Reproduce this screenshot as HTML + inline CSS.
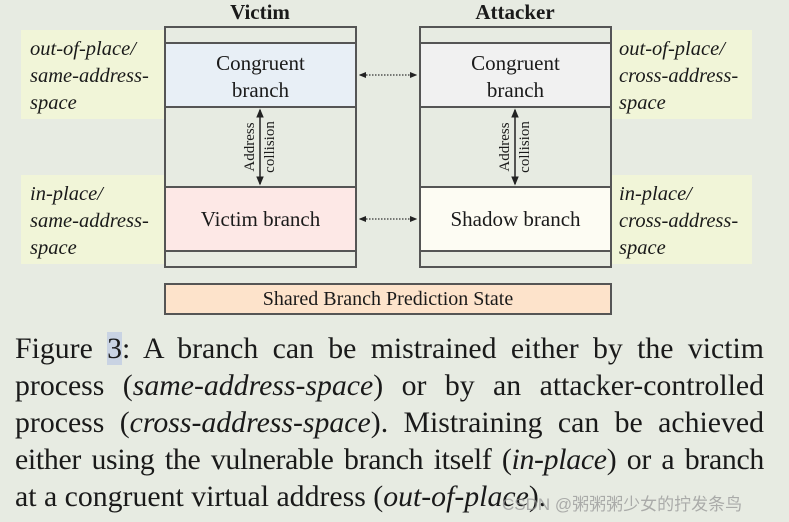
<!DOCTYPE html>
<html><head><meta charset="utf-8"><style>
body{margin:0;width:789px;height:522px;background:#e7ebe2;position:relative;overflow:hidden;font-family:"Liberation Serif",serif;color:#1a1a1a}
.a{position:absolute;box-sizing:border-box}
.col{border:2px solid #555;}
.hl{border-top:2px solid #555;}
.lab{background:#f1f5d8;font-style:italic;font-size:20.5px;line-height:27px;padding:6px 0 0 9px}
.t{font-size:21px;text-align:center;}
.cap{position:absolute;left:15px;width:749px;font-size:29.8px;line-height:37px;text-align:justify;text-align-last:justify;white-space:nowrap}
.cap.l{text-align-last:left}
.rot{position:absolute;transform:rotate(-90deg);font-size:15px;line-height:20px;text-align:center;white-space:nowrap}
</style></head><body>
<div class="a" style="left:164px;top:0;width:192px;text-align:center;font-weight:bold;font-size:21px;line-height:24px">Victim</div>
<div class="a" style="left:419px;top:0;width:192px;text-align:center;font-weight:bold;font-size:21px;line-height:24px">Attacker</div>

<div class="a lab" style="left:21px;top:30px;width:143px;height:89px">out-of-place/<br>same-address-<br>space</div>
<div class="a lab" style="left:21px;top:175px;width:143px;height:89px">in-place/<br>same-address-<br>space</div>
<div class="a lab" style="left:611px;top:30px;width:141px;height:89px;padding-left:8px">out-of-place/<br>cross-address-<br>space</div>
<div class="a lab" style="left:611px;top:175px;width:141px;height:89px;padding-left:8px">in-place/<br>cross-address-<br>space</div>

<div class="a col" style="left:164px;top:26px;width:193px;height:242px"></div>
<div class="a" style="left:166px;top:44px;width:189px;height:63px;background:#e8eff6"></div>
<div class="a" style="left:166px;top:188px;width:189px;height:63px;background:#fde8e6"></div>
<div class="a hl" style="left:164px;top:42px;width:193px"></div>
<div class="a hl" style="left:164px;top:106px;width:193px"></div>
<div class="a hl" style="left:164px;top:186px;width:193px"></div>
<div class="a hl" style="left:164px;top:250px;width:193px"></div>
<div class="a t" style="left:164px;top:50px;width:193px;line-height:27px">Congruent<br>branch</div>
<div class="a t" style="left:164px;top:206px;width:193px;line-height:27px">Victim branch</div>

<div class="a col" style="left:419px;top:26px;width:193px;height:242px"></div>
<div class="a" style="left:421px;top:44px;width:189px;height:63px;background:#f1f1f1"></div>
<div class="a" style="left:421px;top:188px;width:189px;height:63px;background:#fdfcf3"></div>
<div class="a hl" style="left:419px;top:42px;width:193px"></div>
<div class="a hl" style="left:419px;top:106px;width:193px"></div>
<div class="a hl" style="left:419px;top:186px;width:193px"></div>
<div class="a hl" style="left:419px;top:250px;width:193px"></div>
<div class="a t" style="left:419px;top:50px;width:193px;line-height:27px">Congruent<br>branch</div>
<div class="a t" style="left:419px;top:206px;width:193px;line-height:27px">Shadow branch</div>

<div class="rot" style="left:225px;top:127px;width:70px;height:40px">Address<br>collision</div>
<div class="rot" style="left:480px;top:127px;width:70px;height:40px">Address<br>collision</div>

<svg class="a" style="left:0;top:0" width="789" height="522">
<defs><marker id="m" markerWidth="6" markerHeight="6" refX="5" refY="3" orient="auto-start-reverse"><path d="M0,0.5 L6,3 L0,5.5z" fill="#222"/></marker></defs>
<line x1="260" y1="110" x2="260" y2="184" stroke="#222" stroke-width="1.5" marker-start="url(#m)" marker-end="url(#m)"/>
<line x1="515" y1="110" x2="515" y2="184" stroke="#222" stroke-width="1.5" marker-start="url(#m)" marker-end="url(#m)"/>
<line x1="360" y1="75" x2="416" y2="75" stroke="#333" stroke-width="1.2" stroke-dasharray="1.5,1.5" marker-start="url(#m)" marker-end="url(#m)"/>
<line x1="360" y1="219" x2="416" y2="219" stroke="#333" stroke-width="1.2" stroke-dasharray="1.5,1.5" marker-start="url(#m)" marker-end="url(#m)"/>
</svg>

<div class="a" style="left:164px;top:283px;width:448px;height:32px;background:#fde3cb;border:2px solid #555;font-size:20px;line-height:28px;text-align:center">Shared Branch Prediction State</div>

<div class="cap" style="top:330px">Figure <span style="background:#c9d3e3">3</span>: A branch can be mistrained either by the victim</div>
<div class="cap" style="top:367px">process (<i>same-address-space</i>) or by an attacker-controlled</div>
<div class="cap" style="top:404px">process (<i>cross-address-space</i>). Mistraining can be achieved</div>
<div class="cap" style="top:441px;letter-spacing:-0.3px">either using the vulnerable branch itself (<i>in-place</i>) or a branch</div>
<div class="cap l" style="top:478px">at a congruent virtual address (<i>out-of-place</i>).</div>
<div class="a" style="left:502px;top:490px;font-family:'Liberation Sans','Noto Sans CJK SC',sans-serif;font-size:17px;color:rgba(150,150,150,0.75);white-space:nowrap">CSDN @粥粥粥少女的拧发条鸟</div>
</body></html>
